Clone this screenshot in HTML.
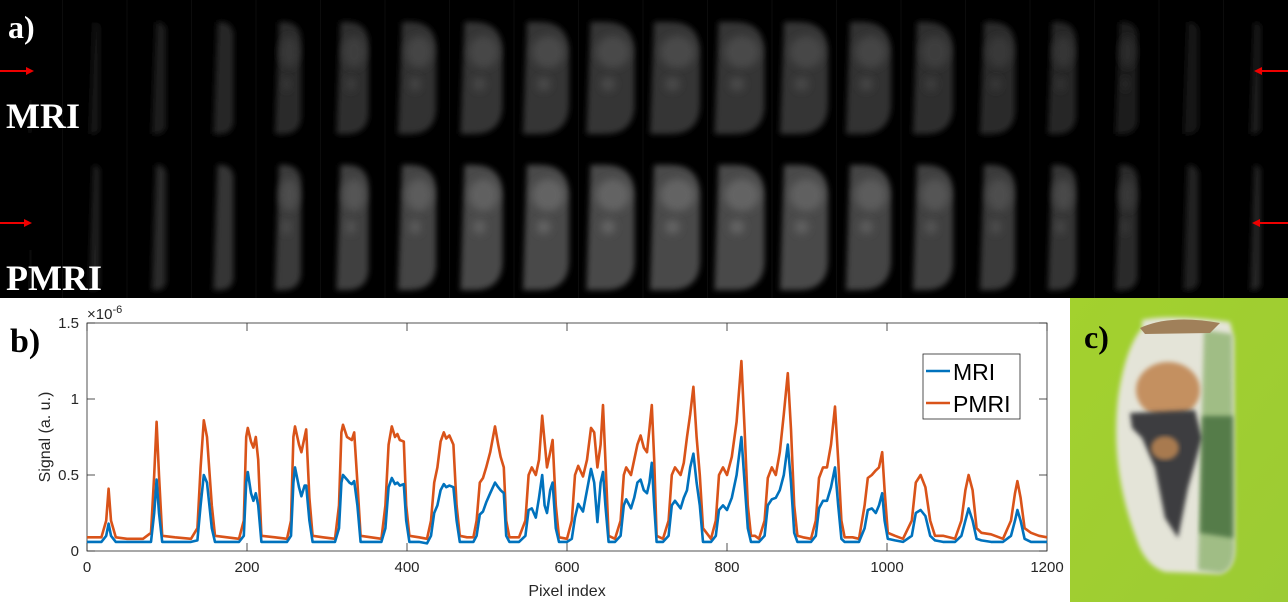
<!DOCTYPE html>
<html><head><meta charset="utf-8">
<style>
html,body{margin:0;padding:0;background:#fff;}
#root{position:relative;width:1288px;height:602px;overflow:hidden;background:#fff;font-family:"Liberation Sans",sans-serif;}
svg{position:absolute;left:0;top:0;}
</style></head>
<body>
<div id="root">
<svg id="top" width="1288" height="298" viewBox="0 0 1288 298">
  <defs>
    <filter id="blur" x="-50%" y="-10%" width="200%" height="120%"><feGaussianBlur stdDeviation="3"/></filter>
    <filter id="blur2" x="-50%" y="-50%" width="200%" height="200%"><feGaussianBlur stdDeviation="4"/></filter>
  </defs>
  <rect x="0" y="0" width="1288" height="298" fill="#000"/>
  <g id="slices"></g>
  <g>
    <line x1="0" y1="71" x2="28" y2="71" stroke="#e00" stroke-width="2"/><polygon points="34,71 26,67 26,75" fill="#e00"/>
    <line x1="1288" y1="71" x2="1262" y2="71" stroke="#e00" stroke-width="2"/><polygon points="1254,71 1262,67 1262,75" fill="#e00"/>
    <line x1="0" y1="223" x2="26" y2="223" stroke="#e00" stroke-width="2"/><polygon points="32,223 24,219 24,227" fill="#e00"/>
    <line x1="1288" y1="223" x2="1260" y2="223" stroke="#e00" stroke-width="2"/><polygon points="1252,223 1260,219 1260,227" fill="#e00"/>
  </g>
  <text x="8" y="38" fill="#fff" font-family="Liberation Serif,serif" font-weight="bold" font-size="32">a)</text>
  <text x="6" y="128" fill="#fff" font-family="Liberation Serif,serif" font-weight="bold" font-size="36">MRI</text>
  <text x="6" y="290" fill="#fff" font-family="Liberation Serif,serif" font-weight="bold" font-size="36">PMRI</text>
</svg>

<svg id="chart" width="1070" height="304" viewBox="0 298 1070 304" style="top:298px">
  <rect x="0" y="298" width="1070" height="304" fill="#fff"/>
  <text x="10" y="352" font-family="Liberation Serif,serif" font-weight="bold" font-size="34" fill="#000">b)</text>
  <g id="axes"></g>
  <g id="series"></g>
  <g>
    <rect x="923" y="354" width="97" height="65" fill="#fff" stroke="#262626" stroke-width="0.8"/>
    <line x1="926" y1="371" x2="950" y2="371" stroke="#0072BD" stroke-width="2.5"/>
    <text x="953" y="380" font-size="23" fill="#000">MRI</text>
    <line x1="926" y1="403" x2="950" y2="403" stroke="#D95319" stroke-width="2.5"/>
    <text x="953" y="412" font-size="23" fill="#000">PMRI</text>
  </g>
</svg>

<svg width="218" height="304" viewBox="0 0 218 304" style="left:1070px;top:298px">
  <defs>
    <filter id="pb"><feGaussianBlur stdDeviation="2.5"/></filter>
    <linearGradient id="bg" x1="0" y1="0" x2="1" y2="1"><stop offset="0" stop-color="#a3d12e"/><stop offset="1" stop-color="#9ccb34"/></linearGradient>
  </defs>
  <rect width="218" height="304" fill="url(#bg)"/>
  <path d="M72,22 Q100,16 160,24 L164,40 L165,250 Q165,272 150,276 L95,274 Q75,268 66,240 Q40,170 48,100 Q55,50 72,30 Z" fill="#e4e4d8" filter="url(#pb)"/>
  <path d="M134,32 L162,36 L164,250 Q164,272 150,275 L128,272 Z" fill="#8ab06a" opacity="0.75" filter="url(#pb)"/>
  <path d="M70,30 Q100,16 150,25 L140,35 L75,36 Z" fill="#a0805a"/>
  <ellipse cx="98" cy="92" rx="32" ry="28" fill="#c49060" filter="url(#pb)"/>
  <path d="M60,115 L125,112 L132,140 L118,190 L108,240 L95,220 L85,170 L72,140 L62,130 Z" fill="#3e3e40" filter="url(#pb)"/>
  <ellipse cx="95" cy="150" rx="14" ry="12" fill="#a87a50" filter="url(#pb)"/>
  <path d="M132,118 L163,118 L163,240 L130,235 Z" fill="#2f5a2c" opacity="0.65" filter="url(#pb)"/>
  <text x="14" y="50" font-family="Liberation Serif,serif" font-weight="bold" font-size="32" fill="#000">c)</text>
</svg>
</div>

<script>
// ---- chart data ----
const xVals = [0,18,24,27,30,36,50,70,80,84,87,90,94,110,130,138,142,146,150,156,160,175,190,196,199,201,205,208,211,214,218,235,250,255,258,260,265,268,272,274,278,282,295,310,315,318,320,325,328,331,334,338,342,355,368,373,377,381,385,388,391,396,399,403,415,425,430,434,438,442,446,449,453,458,462,466,475,483,487,491,495,499,504,510,514,517,521,524,528,540,548,552,556,561,565,569,572,575,579,582,586,590,600,606,610,614,620,625,630,634,638,642,645,648,652,660,667,671,674,680,684,688,692,696,700,703,706,709,712,720,727,731,735,742,746,750,754,758,762,766,770,780,786,790,795,800,806,812,818,822,826,830,835,840,847,851,856,861,866,871,876,880,884,888,895,905,911,915,920,925,930,935,939,943,947,957,965,972,976,981,986,990,994,997,1001,1010,1020,1031,1036,1042,1048,1054,1060,1070,1085,1093,1098,1102,1107,1112,1118,1130,1145,1155,1160,1163,1167,1172,1180,1190,1200];
const pmriVals = [.09,.09,.2,.41,.2,.09,.08,.08,.12,.5,.85,.5,.1,.09,.08,.15,.55,.86,.75,.3,.1,.09,.08,.2,.75,.81,.72,.68,.75,.6,.1,.09,.08,.2,.75,.82,.70,.65,.75,.80,.35,.1,.09,.08,.3,.78,.83,.75,.74,.73,.78,.45,.1,.09,.08,.3,.7,.82,.75,.77,.73,.72,.3,.1,.09,.08,.2,.45,.55,.72,.78,.74,.76,.70,.3,.1,.09,.09,.2,.45,.48,.55,.65,.82,.70,.62,.55,.2,.09,.09,.2,.50,.55,.50,.60,.89,.72,.55,.65,.73,.3,.09,.08,.2,.5,.56,.49,.60,.81,.78,.55,.7,.96,.6,.1,.08,.2,.5,.55,.5,.6,.70,.76,.68,.65,.8,.96,.6,.1,.08,.2,.5,.55,.50,.58,.75,.90,1.08,.75,.5,.15,.08,.2,.5,.55,.50,.62,.85,1.25,.8,.3,.1,.1,.08,.2,.48,.55,.50,.65,.90,1.17,.8,.3,.1,.09,.08,.2,.48,.55,.55,.70,.95,.6,.2,.09,.09,.08,.3,.48,.50,.53,.55,.65,.4,.12,.1,.08,.2,.45,.50,.42,.2,.1,.1,.08,.2,.40,.50,.40,.15,.12,.11,.08,.2,.38,.46,.35,.15,.12,.1,.09];
const mriVals = [.06,.06,.1,.18,.1,.06,.06,.06,.06,.25,.47,.25,.06,.06,.06,.07,.3,.5,.45,.15,.06,.06,.06,.1,.45,.52,.38,.33,.38,.3,.06,.06,.06,.1,.45,.55,.42,.36,.43,.43,.2,.06,.06,.06,.15,.45,.50,.47,.45,.44,.46,.3,.06,.06,.06,.15,.42,.48,.44,.45,.43,.44,.2,.06,.06,.05,.1,.25,.30,.4,.44,.42,.43,.42,.2,.06,.06,.06,.1,.24,.26,.32,.38,.45,.42,.40,.38,.1,.06,.06,.1,.27,.28,.22,.35,.50,.30,.25,.40,.45,.15,.06,.06,.08,.22,.31,.26,.40,.54,.45,.19,.45,.52,.3,.06,.06,.1,.3,.34,.28,.35,.45,.47,.40,.38,.45,.58,.3,.06,.06,.1,.30,.33,.28,.35,.40,.55,.64,.45,.3,.06,.06,.1,.27,.30,.27,.35,.50,.75,.45,.15,.06,.06,.06,.1,.30,.34,.35,.40,.50,.70,.45,.12,.06,.06,.06,.1,.28,.33,.33,.42,.55,.3,.08,.06,.06,.06,.15,.27,.28,.25,.30,.38,.2,.08,.07,.06,.1,.25,.27,.23,.1,.07,.06,.06,.1,.2,.28,.2,.08,.07,.06,.06,.1,.2,.27,.2,.08,.06,.06,.06];
const xTicks = [0,200,400,600,800,1000,1200];
const yTicks = [0,0.5,1,1.5];
const yTickLabels = ["0","0.5","1","1.5"];

const NS = "http://www.w3.org/2000/svg";
const X0 = 87, X1 = 1047, Y0 = 551, Y1 = 323;
function xs(v){ return X0 + (v/1200)*(X1-X0); }
function ys(v){ return Y0 - (v/1.5)*(Y0-Y1); }
function mk(tag, attrs, parent){ const e=document.createElementNS(NS,tag); for(const k in attrs) e.setAttribute(k,attrs[k]); parent.appendChild(e); return e; }

const axes = document.getElementById('axes');
const frame = mk('rect',{x:X0,y:Y1,width:X1-X0,height:Y0-Y1,fill:'none',stroke:'#262626','stroke-width':0.8},axes);


xTicks.forEach(t=>{
  const x=xs(t);
  mk('line',{x1:x,y1:Y0,x2:x,y2:Y0-8,stroke:'#262626','stroke-width':0.8},axes);
  mk('line',{x1:x,y1:Y1,x2:x,y2:Y1+8,stroke:'#262626','stroke-width':0.8},axes);
  const tx = mk('text',{x:x,y:572,'text-anchor':'middle','font-size':15,fill:'#262626'},axes);
  tx.textContent = String(t);
  
  
});
yTicks.forEach((t,i)=>{
  const y=ys(t);
  mk('line',{x1:X0,y1:y,x2:X0+8,y2:y,stroke:'#262626','stroke-width':0.8},axes);
  mk('line',{x1:X1,y1:y,x2:X1-8,y2:y,stroke:'#262626','stroke-width':0.8},axes);
  const tx = mk('text',{x:79,y:y+5,'text-anchor':'end','font-size':15,fill:'#262626'},axes);
  tx.textContent = yTickLabels[i];
  
  
});
const ex = mk('text',{x:87,y:319,'font-size':15,fill:'#262626'},axes);
ex.innerHTML = '×10<tspan dy="-6" font-size="11">-6</tspan>';


const xt = mk('text',{x:567,y:596,'text-anchor':'middle','font-size':16,fill:'#262626'},axes);
xt.textContent='Pixel index';


const yt = mk('text',{x:0,y:0,'text-anchor':'middle','font-size':16,fill:'#262626',transform:'translate(50,437) rotate(-90)'},axes);
yt.textContent='Signal (a. u.)';



const series = document.getElementById('series');
function line(vals,color,name){
  const pts = xVals.map((x,i)=>xs(x).toFixed(1)+','+ys(vals[i]).toFixed(1)).join(' ');
  const p = mk('polyline',{points:pts,fill:'none',stroke:color,'stroke-width':2.6,'stroke-linejoin':'round'},series);
  
  
}
line(pmriVals,'#D95319','pmri-line');
line(mriVals,'#0072BD','mri-line');

// ---- MRI slice thumbnails ----
const widths = [5,10,14,20,26,32,38,42,46,48,50,50,48,45,40,35,28,22,15,10];
const bright = [0.15,0.3,0.4,0.5,0.55,0.6,0.65,0.68,0.7,0.7,0.7,0.7,0.68,0.65,0.6,0.55,0.5,0.4,0.3,0.35];
const sl = document.getElementById('slices');
for(let r=0;r<2;r++){
  const top = r===0?22:165, bot = r===0?134:290;
  const gain = r===0?0.55:0.75;
  for(let i=0;i<20;i++){
    const w = widths[i];
    const R = 30 + 64.5*i + 0.5*w, L = R - w, rr = Math.min(w*0.7,30);
    const g = Math.round(255*bright[i]*gain*0.55);
    const d = `M${L+4},${top} L${R-rr},${top} Q${R},${top} ${R},${top+rr} L${R},${bot-rr} Q${R},${bot} ${R-rr},${bot} L${L},${bot} Z`;
    const s = mk('path',{d:d,fill:`rgb(${g},${g},${g})`,filter:'url(#blur)'},sl);
    
    
    if(w>20){
      const g2 = Math.min(255,Math.round(g*1.35));
      mk('ellipse',{cx:L+w*0.55,cy:top+30,rx:w*0.35,ry:16,fill:`rgb(${g2},${g2},${g2})`,filter:'url(#blur2)'},sl);
      mk('ellipse',{cx:L+w*0.45,cy:top+62,rx:w*0.15,ry:7,fill:`rgb(${g2},${g2},${g2})`,filter:'url(#blur2)'},sl);
    }
    if(i>0) mk('line',{x1:64.5*i-2,y1:r===0?0:150,x2:64.5*i-2,y2:r===0?150:298,stroke:'#0c0c0c','stroke-width':1},sl);
  }
}
</script>
</body></html>
